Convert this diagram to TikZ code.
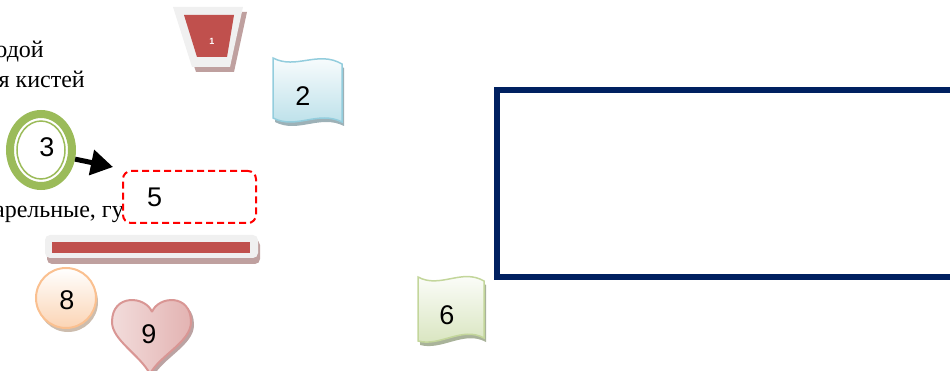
\documentclass[tikz,border=0pt]{standalone}
\usepackage{fontspec}
\setmainfont{Liberation Serif}
\setsansfont{Liberation Sans}
\usetikzlibrary{arrows.meta, positioning, shapes.geometric}

\definecolor{navy}{HTML}{002060}
\definecolor{olive}{HTML}{9BBB59}
\definecolor{brick}{HTML}{C0504D}
\definecolor{trapgray}{HTML}{F0F0F0}
\definecolor{trapshadow}{HTML}{BFA09F}
\definecolor{paleblue}{HTML}{B7DEE8}
\definecolor{blueline}{HTML}{93CDDD}
\definecolor{blueshadow}{HTML}{9DB1B7}
\definecolor{palegreen}{HTML}{D7E4BD}
\definecolor{greenline}{HTML}{C3D69B}
\definecolor{greenshadow}{HTML}{A9B39A}
\definecolor{peach}{HTML}{FBD4B4}
\definecolor{peachline}{HTML}{FAC090}
\definecolor{peachshadow}{HTML}{CDBDAE}
\definecolor{rose}{HTML}{E3B3B2}
\definecolor{paleRose}{HTML}{F2DCDB}
\definecolor{roseline}{HTML}{D99694}
\definecolor{roseshadow}{HTML}{BBA3A3}

\tikzset{
  digit/.style={font=\sffamily\fontsize{27}{30}\selectfont, inner sep=0pt},
  ruword/.style={font=\fontsize{24}{28}\selectfont, anchor=base east, inner sep=0pt},
  dashbox/.style={draw=red, line width=2pt, dash pattern=on 7pt off 4pt,
    rounded corners=8pt, fill=white, minimum height=52pt, text width=85pt,
    inner xsep=24pt, align=left, font=\sffamily\fontsize{27}{30}\selectfont},
}

\begin{document}
\begin{tikzpicture}[x=1pt, y=-1pt]
    \useasboundingbox (0,0) rectangle (950,371);
    \clip (0,0) rectangle (950,371);

    % words cut by the left edge
    \node[ruword] (w1) at (44,58) {одой};
    \node[ruword] (w2) at (85,88) {я кистей};
    \node[ruword] (w3) at (124,218) {арельные, гу};

    % trapezoid 1
    \fill[trapshadow] (177,12) -- (247,12) -- (234,72) -- (196,72) -- cycle;
    \fill[trapgray] (173,7) -- (243,7) -- (230,67) -- (192,67) -- cycle;
    \fill[brick] (184,15) -- (234,15) -- (227,57) -- (197,57) -- cycle;
    \node[font=\sffamily\bfseries\fontsize{9}{10}\selectfont, text=white] (n1) at (212,41) {1};

    % scroll 2
    \fill[blueshadow, shift={(2,4)}] (273,58) .. controls (296,70) and (318,50) .. (342,64)
        -- (342,122) .. controls (318,110) and (296,130) .. (273,118) -- cycle;
    \shade[top color=white, bottom color=paleblue, draw=blueline, line width=1.5pt]
        (273,58) .. controls (296,70) and (318,50) .. (342,64)
        -- (342,122) .. controls (318,110) and (296,130) .. (273,118) -- cycle;
    \node[digit] (n2) at (303,96) {2};

    % ring 3 and arrow
    \node[ellipse, draw=olive, line width=8pt, minimum width=62pt, minimum height=72pt,
        inner sep=0pt] (c3) at (41,150) {};
    \draw[olive, line width=1.5pt] (c3.center) ellipse [x radius=24, y radius=29];
    \node[digit] (n3) at (47,147) {3};
    \coordinate (tip) at (113,167);
    \draw[line width=5pt, -{Triangle[length=22pt, width=25pt]}] (c3.-15) -- (tip);

    % box 5
    \node[dashbox, anchor=north west] (box5) at (122,170) {5};

    % bar
    \fill[trapshadow, rounded corners=5pt] (47,240) rectangle (260,264);
    \fill[trapgray, rounded corners=5pt] (45,235) rectangle (258,258);
    \fill[brick] (52,242) rectangle (250,253);

    % circle 8
    \fill[peachshadow] (68,302) circle (30);
    \shade[top color=white, bottom color=peach, draw=peachline, line width=2pt] (66,298) circle (30);
    \node[digit] (n8) at (67,300) {8};

    % heart 9
    \fill[roseshadow, shift={(3,3)}] (152,312) .. controls (146,296) and (112,293) .. (112,322)
        .. controls (112,340) and (140,355) .. (150,374)
        .. controls (160,355) and (191,342) .. (191,322)
        .. controls (191,293) and (158,296) .. (152,312);
    \shade[left color=paleRose, right color=rose, draw=roseline, line width=2pt]
        (152,312) .. controls (146,296) and (112,293) .. (112,322)
        .. controls (112,340) and (140,355) .. (150,374)
        .. controls (160,355) and (191,342) .. (191,322)
        .. controls (191,293) and (158,296) .. (152,312);
    \node[digit] (n9) at (149,334) {9};

    % scroll 6
    \fill[greenshadow, shift={(2,4)}] (418,277) .. controls (440,289) and (462,268) .. (484,281)
        -- (484,338) .. controls (462,326) and (440,347) .. (418,341) -- cycle;
    \shade[top color=white, bottom color=palegreen, draw=greenline, line width=1.5pt]
        (418,277) .. controls (440,289) and (462,268) .. (484,281)
        -- (484,338) .. controls (462,326) and (440,347) .. (418,341) -- cycle;
    \node[digit] (n6) at (447,315) {6};

    % big frame
    \draw[navy, line width=6pt] (497,90) rectangle (970,277);
\end{tikzpicture}
\end{document}
